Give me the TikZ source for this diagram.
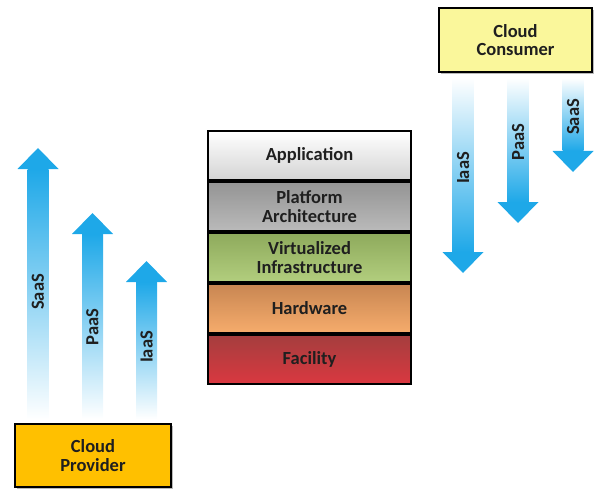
\documentclass[tikz,border=0pt]{standalone}
\usepackage{fontspec}
\setmainfont{Carlito}
\usetikzlibrary{shadows}

\definecolor{arrowblue}{RGB}{30,168,232}
\definecolor{provider}{RGB}{255,192,0}
\definecolor{consumer}{RGB}{250,247,155}

% Up arrow: centre x, tip y, shaft bottom y (shaft fades out towards the bottom)
\newcommand\servup[3]{%
  \shade[top color=arrowblue, middle color=arrowblue!62, bottom color=white] (#1-10.5,#2-21) rectangle (#1+10.5,#3);
  \fill[arrowblue] (#1-20.5,#2-21) -- (#1,#2) -- (#1+20.5,#2-21) -- cycle;}
% Down arrow: centre x, tip y, shaft top y (shaft fades out towards the top)
\newcommand\servdown[3]{%
  \shade[bottom color=arrowblue, middle color=arrowblue!62, top color=white] (#1-10.5,#2+21) rectangle (#1+10.5,#3);
  \fill[arrowblue] (#1-20.5,#2+21) -- (#1,#2) -- (#1+20.5,#2+21) -- cycle;}

\begin{document}
\begin{tikzpicture}[x=1pt,y=1pt,
  txt/.style={font=\bfseries\fontsize{18.5}{18.5}\selectfont, text=black!88, align=center},
  layer/.style={txt, draw=black, line width=2.4pt, minimum width=203pt, minimum height=49pt, inner sep=0pt},
  actor/.style={txt, draw=black, line width=2pt, inner sep=0pt,
    drop shadow={shadow xshift=2pt, shadow yshift=-2pt, fill=black!45, opacity=.6}},
  svc/.style={txt, rotate=90}]
\useasboundingbox (0,0) rectangle (597,491);

% service arrows from the provider side
\servup{38}{343}{72}
\servup{92.5}{278}{72}
\servup{146.5}{230}{72}
\node[svc] (pSaaS) at (38,199) {SaaS};
\node[svc] (pPaaS) at (92.5,164) {PaaS};
\node[svc] (pIaaS) at (146.5,144) {IaaS};

% service arrows towards the consumer side
\servdown{463}{218}{413}
\servdown{518}{268}{413}
\servdown{573}{319}{413}
\node[svc] (cIaaS) at (463,323) {IaaS};
\node[svc] (cPaaS) at (518,349) {PaaS};
\node[svc] (cSaaS) at (573,374) {SaaS};

% the layered stack
\node[layer, top color=white, bottom color=black!17] (app) at (309.5,335.5) {Application};
\node[layer, top color=black!42, bottom color=black!27] (plat) at (309.5,284.5) {Platform\\Architecture};
\node[layer, top color={rgb,255:red,142;green,170;blue,92}, bottom color={rgb,255:red,178;green,206;blue,126}] (virt) at (309.5,233.5) {Virtualized\\Infrastructure};
\node[layer, top color={rgb,255:red,200;green,134;blue,82}, bottom color={rgb,255:red,246;green,172;blue,108}] (hw) at (309.5,182.5) {Hardware};
\node[layer, top color={rgb,255:red,164;green,62;blue,62}, bottom color={rgb,255:red,218;green,56;blue,64}] (fac) at (309.5,131.5) {Facility};

% the two parties
\node[actor, fill=provider, minimum width=156pt, minimum height=63pt] (provider) at (93,35.5) {Cloud\\Provider};
\node[actor, fill=consumer, minimum width=153pt, minimum height=64pt] (consumer) at (515.5,451) {Cloud\\Consumer};
\end{tikzpicture}
\end{document}
